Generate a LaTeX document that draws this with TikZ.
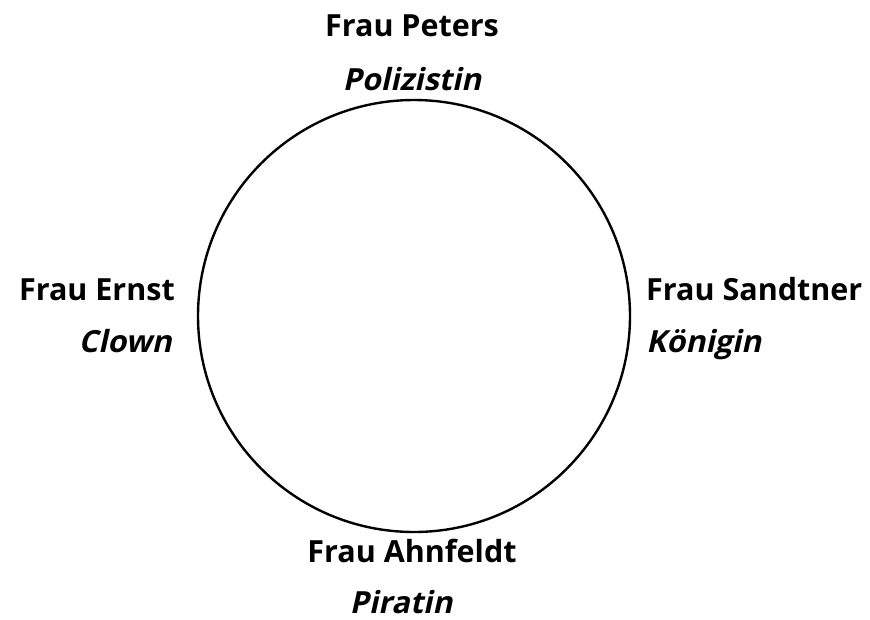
\documentclass[tikz,border=0pt]{standalone}
\usepackage{fontspec}
\setmainfont{Open Sans}
\newfontfamily\slantfam{Open Sans}[FakeSlant=0.22]
\begin{document}
\begin{tikzpicture}[x=1pt,y=-1pt,
  personlbl/.style={font=\fontsize{30.5}{36}\selectfont\bfseries,inner sep=0pt},
  rolelbl/.style={font=\fontsize{30.5}{36}\slantfam\selectfont\bfseries,inner sep=0pt}]
\useasboundingbox (0,0) rectangle (870,619);
\node[draw,line width=2.4pt,circle,minimum size=432pt,inner sep=0pt] (c) at (414,316) {};
\node[personlbl,anchor=base] (p) at (412,36) {Frau Peters};
\node[rolelbl,anchor=base] (pr) at (412,90) {Polizistin};
\node[personlbl,anchor=base east] (e) at (175,300) {Frau Ernst};
\node[rolelbl,anchor=base east] (er) at (172,352) {Clown};
\node[personlbl,anchor=base west] (s) at (646,300) {Frau Sandtner};
\node[rolelbl,anchor=base west] (sr) at (646,352) {Königin};
\node[personlbl,anchor=base] (a) at (412,562) {Frau Ahnfeldt};
\node[rolelbl,anchor=base] (ar) at (401,613) {Piratin};
\end{tikzpicture}
\end{document}
